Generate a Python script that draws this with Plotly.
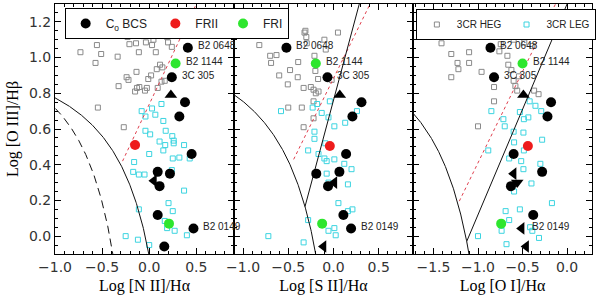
import numpy as np
import plotly.graph_objects as go
from plotly.subplots import make_subplots

# ---------------- data ----------------
# C_o BCS (black dots)
bcs_nii_x = [0.41, 0.24, 0.38, 0.32, 0.45, 0.09, 0.22, 0.11, 0.09, 0.47, 0.16]
bcs_nii_y = [1.055, 0.89, 0.75, 0.67, 0.46, 0.36, 0.35, 0.28, 0.118, 0.043, -0.058]
bcs_sii_x = [-0.52, -0.066, 0.31, 0.21, 0.14, -0.19, 0.066, -0.06, 0.11, 0.195]
bcs_sii_y = [1.055, 0.89, 0.75, 0.67, 0.46, 0.35, 0.36, 0.28, 0.118, 0.043]
bcs_oi_x = [-0.86, -0.82, -0.18, -0.22, -0.60, -0.28, -0.63, -0.38]
bcs_oi_y = [1.055, 0.89, 0.75, 0.67, 0.46, 0.36, 0.28, 0.118]

# C_o BCS upper limits (triangles)
lim_nii_x = [0.23, 0.05]
lim_nii_y = [0.79, 0.31]
lim_nii_dir = ["triangle-up", "triangle-left"]
lim_sii_x = [0.07, 0.01, -0.11]
lim_sii_y = [0.79, 0.30, -0.058]
lim_sii_dir = ["triangle-up", "triangle-left", "triangle-left"]
lim_oi_x = [-0.49, -0.60, -0.56, -0.51, -0.46]
lim_oi_y = [0.79, 0.35, 0.30, 0.043, -0.058]
lim_oi_dir = ["triangle-up", "triangle-left", "triangle-down", "triangle-left", "triangle-left"]

# FRII (red) and FRI (green)
frii_x = [-0.15, -0.04, -0.44]
frii_y = [0.51, 0.505, 0.505]
fri_nii_x = [0.28, 0.21]
fri_sii_x = [-0.195, -0.125]
fri_oi_x = [-0.50, -0.74]
fri_y = [0.967, 0.07]

# labelled sources
lab_names = ["B2 0648", "B2 1144", "3C 305", "B2 0149"]
lab_nii_x = [0.41, 0.28, 0.24, 0.47]
lab_sii_x = [-0.52, -0.195, -0.066, 0.195]
lab_oi_x = [-0.86, -0.50, -0.82, -0.51]
lab_y = [1.055, 0.967, 0.89, 0.043]

# 3CR HEG (grey squares)
heg_nii_x = [-0.73, -0.57, -0.555, -0.51, -0.335, -0.325, -0.545, -0.27, -0.24, -0.22,
             -0.23, -0.21, -0.17, -0.16, -0.08, -0.14, -0.135, -0.11, -0.13, -0.105,
             -0.15, -0.06, -0.035, -0.045, -0.01, 0.02, 0.03, 0.045, 0.07, 0.08,
             0.115, 0.14, 0.13, 0.165, 0.19, 0.20, 0.22, 0.24, 0.09, -0.025]
heg_nii_y = [1.03, 0.97, 1.07, 1.02, 1.005, 0.84, 0.72, 0.61, 0.89, 0.875,
             1.115, 1.075, 1.13, 1.15, 1.15, 1.08, 0.92, 1.03, 0.83, 0.835,
             0.81, 1.12, 1.085, 0.815, 0.88, 0.90, 1.07, 1.10, 1.03, 0.935,
             0.96, 0.945, 0.865, 0.87, 1.115, 1.085, 1.14, 1.06, 0.83, 0.83]
heg_sii_x = [-0.74, -0.82, -0.70, -0.69, -0.63, -0.60, -0.505, -0.50, -0.48, -0.39,
             -0.395, -0.35, -0.33, -0.32, -0.31, -0.30, -0.295, -0.25, -0.22, -0.21,
             -0.20, -0.17, -0.165, -0.195, -0.10, -0.085, 0.05, -0.02, -0.22, -0.22, -0.33]
heg_sii_y = [1.18, 1.07, 1.01, 0.97, 1.014, 0.90, 0.85, 0.72, 0.93, 0.975,
             0.89, 0.72, 0.83, 1.14, 1.15, 1.115, 1.08, 0.835, 0.82, 1.01,
             0.925, 0.88, 0.81, 0.80, 1.10, 1.045, 1.14, 0.875, 0.755, 0.66, 0.61]
heg_oi_x = [-1.41, -1.30, -1.30, -1.23, -1.22, -1.10, -1.10, -1.00, -0.89, -0.96,
            -1.00, -0.82, -0.82, -0.76, -0.745, -0.715, -0.70, -0.67, -0.66, -0.625,
            -0.60, -0.60, -0.58, -0.56, -0.54, -0.48, -0.41, -0.39, -0.37, -0.32, -0.26]
heg_oi_y = [1.08, 1.02, 0.89, 0.97, 0.935, 1.03, 0.97, 1.15, 1.15, 0.92,
            0.615, 0.835, 0.755, 1.035, 1.075, 1.13, 1.18, 1.01, 0.96, 0.93,
            0.87, 1.10, 0.84, 0.815, 0.895, 1.085, 1.14, 1.065, 0.815, 0.795, 1.18]

# 3CR LEG (cyan squares)
leg_nii_x = [-0.08, -0.04, 0.03, 0.065, 0.13, 0.15, 0.175, 0.245, 0.26, -0.04,
             0.11, 0.17, 0.01, 0.0, 0.15, 0.26, 0.37, 0.25, 0.32, 0.43,
             -0.16, -0.17, -0.11, -0.05, 0.24, 0.37, -0.11, 0.205, 0.25, 0.165,
             0.19, 0.27, 0.40, -0.25, -0.12, 0.0]
leg_nii_y = [0.70, 0.67, 0.715, 0.68, 0.74, 0.645, 0.59, 0.56, 0.535, 0.59,
             0.53, 0.51, 0.57, 0.46, 0.48, 0.52, 0.51, 0.435, 0.44, 0.435,
             0.415, 0.36, 0.345, 0.345, 0.37, 0.255, 0.15, 0.185, 0.14, 0.085,
             0.045, 0.03, 0.005, 0.0, -0.02, -0.05]
leg_sii_x = [-0.58, -0.23, -0.18, -0.13, -0.055, -0.04, 0.01, 0.13, 0.26, -0.21,
             -0.21, -0.09, -0.28, -0.165, -0.10, -0.075, 0.01, 0.12, 0.20, -0.075,
             0.16, -0.055, 0.055, 0.21, 0.16, -0.28, 0.01, 0.025, -0.055, -0.72, -0.33]
leg_sii_y = [0.70, 0.72, 0.74, 0.69, 0.665, 0.755, 0.615, 0.635, 0.70, 0.585,
             0.545, 0.52, 0.48, 0.46, 0.435, 0.42, 0.43, 0.405, 0.375, 0.35,
             0.29, 0.30, 0.185, 0.15, 0.14, 0.09, 0.045, 0.005, 0.03, 0.0, -0.035]
leg_oi_x = [-0.85, -0.715, -0.70, -0.53, -0.485, -0.435, -0.42, -0.355, -0.29, -0.28,
            -0.60, -0.49, -0.595, -0.885, -0.485, -0.65, -0.515, -0.30, -0.49, -0.40,
            -0.595, -0.17, -0.53, -0.69, -0.65, -0.735, -0.415, -0.39, -0.315, -1.00, -0.68]
leg_oi_y = [0.70, 0.655, 0.615, 0.695, 0.655, 0.665, 0.755, 0.73, 0.70, 0.54,
            0.585, 0.58, 0.525, 0.48, 0.48, 0.435, 0.42, 0.405, 0.375, 0.295,
            0.25, 0.185, 0.15, 0.14, 0.09, 0.03, 0.05, 0.03, -0.01, 0.0, -0.045]

# red dotted separation segments (endpoints)
dot_nii_x = [-0.283, 0.50]
dot_nii_y = [0.42, 1.30]
dot_sii_x = [-0.44, 0.405]
dot_sii_y = [0.43, 1.30]
dot_oi_x = [-1.21, -0.13]
dot_oi_y = [0.196, 1.30]

# published demarcation curves: y = a/(x-b)+c  and  y = m*x + k
kew01_nii = (0.61, 0.47, 1.19)
kau03_nii = (0.61, 0.05, 1.30)
kew01_sii = (0.72, 0.32, 1.30)
kew01_oi = (0.73, -0.59, 1.33)
kew06_sii = (1.89, 0.76)
kew06_oi = (1.18, 1.30)

x_titles = ["Log [N II]/Hα", "Log [S II]/Hα", "Log [O I]/Hα"]
y_title = "Log [O III]/Hβ"
x_ranges = [[-1.0, 0.9], [-1.1, 0.88], [-1.73, 0.28]]
y_range = [-0.1, 1.3]

# ---------------- figure ----------------
fig = make_subplots(rows=1, cols=3, shared_yaxes=True, horizontal_spacing=0)

HEG_C = "#8a8a8a"
LEG_C = "#3cd4e0"
RED = "#ee1c1c"
GREEN = "#2ee62e"
DOTC = "#e0404f"


def hyper(coef, x0, x1):
    a, b, c = coef
    xs = np.linspace(x0, x1, 300)
    return xs, a / (xs - b) + c


def cross(coef, line):
    a, b, c = coef
    m, k = line
    r = np.roots([m, k - c - m * b, -b * (k - c) - a])
    r = r[np.isreal(r)].real
    return r[r < b].max()


panels = [
    dict(heg=(heg_nii_x, heg_nii_y), leg=(leg_nii_x, leg_nii_y), bcs=(bcs_nii_x, bcs_nii_y),
         lim=(lim_nii_x, lim_nii_y, lim_nii_dir), frii=(frii_x[0], frii_y[0]),
         fri=fri_nii_x, dot=(dot_nii_x, dot_nii_y), labx=lab_nii_x),
    dict(heg=(heg_sii_x, heg_sii_y), leg=(leg_sii_x, leg_sii_y), bcs=(bcs_sii_x, bcs_sii_y),
         lim=(lim_sii_x, lim_sii_y, lim_sii_dir), frii=(frii_x[1], frii_y[1]),
         fri=fri_sii_x, dot=(dot_sii_x, dot_sii_y), labx=lab_sii_x),
    dict(heg=(heg_oi_x, heg_oi_y), leg=(leg_oi_x, leg_oi_y), bcs=(bcs_oi_x, bcs_oi_y),
         lim=(lim_oi_x, lim_oi_y, lim_oi_dir), frii=(frii_x[2], frii_y[2]),
         fri=fri_oi_x, dot=(dot_oi_x, dot_oi_y), labx=lab_oi_x),
]

line_style = dict(color="#111111", width=1)

for i, p in enumerate(panels):
    col = i + 1
    first = (i == 0)
    fig.add_trace(go.Scatter(x=p["heg"][0], y=p["heg"][1], mode="markers", name="3CR HEG",
                             marker=dict(symbol="square-open", size=5, color=HEG_C, line=dict(width=1)),
                             showlegend=first, legend="legend2"), row=1, col=col)
    fig.add_trace(go.Scatter(x=p["leg"][0], y=p["leg"][1], mode="markers", name="3CR LEG",
                             marker=dict(symbol="square-open", size=5, color=LEG_C, line=dict(width=1)),
                             showlegend=first, legend="legend2"), row=1, col=col)
    fig.add_trace(go.Scatter(x=p["dot"][0], y=p["dot"][1], mode="lines",
                             line=dict(color=DOTC, width=1, dash="dot"), showlegend=False), row=1, col=col)

# demarcation curves
xs, ys = hyper(kew01_nii, -1.2, 0.02)
fig.add_trace(go.Scatter(x=xs, y=ys, mode="lines", line=line_style, showlegend=False), row=1, col=1)
xs, ys = hyper(kau03_nii, -1.2, -0.36)
fig.add_trace(go.Scatter(x=xs, y=ys, mode="lines", line=dict(color="#111111", width=1, dash="8px,5px"),
                         showlegend=False), row=1, col=1)
xs, ys = hyper(kew01_sii, -1.3, -0.17)
fig.add_trace(go.Scatter(x=xs, y=ys, mode="lines", line=line_style, showlegend=False), row=1, col=2)
x0 = cross(kew01_sii, kew06_sii)
xl = np.array([x0, 0.35])
fig.add_trace(go.Scatter(x=xl, y=kew06_sii[0] * xl + kew06_sii[1], mode="lines", line=line_style,
                         showlegend=False), row=1, col=2)
xs, ys = hyper(kew01_oi, -1.9, -1.08)
fig.add_trace(go.Scatter(x=xs, y=ys, mode="lines", line=line_style, showlegend=False), row=1, col=3)
x0 = cross(kew01_oi, kew06_oi)
xl = np.array([x0, 0.05])
fig.add_trace(go.Scatter(x=xl, y=kew06_oi[0] * xl + kew06_oi[1], mode="lines", line=line_style,
                         showlegend=False), row=1, col=3)

for i, p in enumerate(panels):
    col = i + 1
    first = (i == 0)
    fig.add_trace(go.Scatter(x=p["bcs"][0], y=p["bcs"][1], mode="markers",
                             name="C<sub>o</sub> BCS\u00a0",
                             marker=dict(symbol="circle", size=10, color="black"),
                             showlegend=first, legend="legend"), row=1, col=col)
    fig.add_trace(go.Scatter(x=p["lim"][0], y=p["lim"][1], mode="markers",
                             marker=dict(symbol=p["lim"][2], size=11, color="black"),
                             showlegend=False), row=1, col=col)
    fig.add_trace(go.Scatter(x=[p["frii"][0]], y=[p["frii"][1]], mode="markers", name="FRII",
                             marker=dict(symbol="circle", size=10, color=RED),
                             showlegend=first, legend="legend"), row=1, col=col)
    fig.add_trace(go.Scatter(x=p["fri"], y=fri_y, mode="markers", name="FRI",
                             marker=dict(symbol="circle", size=10, color=GREEN),
                             showlegend=first, legend="legend"), row=1, col=col)
    xref = "x" if col == 1 else f"x{col}"
    yref = "y" if col == 1 else f"y{col}"
    for name, lx, ly in zip(lab_names, p["labx"], lab_y):
        fig.add_annotation(x=lx, y=ly, xref=xref, yref=yref, text=name, showarrow=False,
                           xanchor="left", yanchor="middle", xshift=8, yshift=2,
                           font=dict(family="Liberation Sans", size=10, color="#222222"))

tickfont = dict(family="DejaVu Sans", size=14, color="#333333")
titlefont = dict(family="Liberation Serif", size=16, color="black")

for i in range(3):
    fig.update_xaxes(range=x_ranges[i], dtick=0.5, tick0=0, tickformat=".1f", ticks="inside", ticklen=6,
                     tickcolor="black", showline=True, linecolor="black", linewidth=1,
                     mirror="allticks", showgrid=False, zeroline=False, tickfont=tickfont,
                     minor=dict(dtick=0.1, tick0=0, ticks="inside", ticklen=3, tickcolor="black", showgrid=False),
                     title=dict(text=x_titles[i], font=titlefont, standoff=6),
                     ticklabelstandoff=0, automargin=False, row=1, col=i + 1)
    fig.update_yaxes(range=y_range, dtick=0.2, tick0=0, tickformat=".1f", ticks="inside", ticklen=6,
                     tickcolor="black", showline=True, linecolor="black", linewidth=1,
                     mirror="allticks", showgrid=False, zeroline=False, tickfont=tickfont,
                     minor=dict(dtick=0.05, tick0=0, ticks="inside", ticklen=3, tickcolor="black", showgrid=False),
                     automargin=False, row=1, col=i + 1)

fig.update_yaxes(title=dict(text=y_title, font=titlefont, standoff=6), ticklabelstandoff=0, row=1, col=1)

fig.update_layout(
    width=600, height=297,
    margin=dict(l=55, r=5, t=4, b=43),
    plot_bgcolor="white", paper_bgcolor="white",
    legend=dict(x=0.018, y=0.984, xanchor="left", yanchor="top", orientation="h",
                bordercolor="black", borderwidth=1, bgcolor="white",
                font=dict(family="Liberation Sans", size=12, color="#222222"),
                itemwidth=30),
    legend2=dict(x=0.672, y=0.98, xanchor="left", yanchor="top", orientation="h",
                 bordercolor="black", borderwidth=1, bgcolor="white",
                 font=dict(family="Liberation Sans", size=10, color="#222222"),
                 itemwidth=30),
)

fig.write_html("out.html", config={"displayModeBar": False},
               post_script="document.body.style.margin='0px';")
